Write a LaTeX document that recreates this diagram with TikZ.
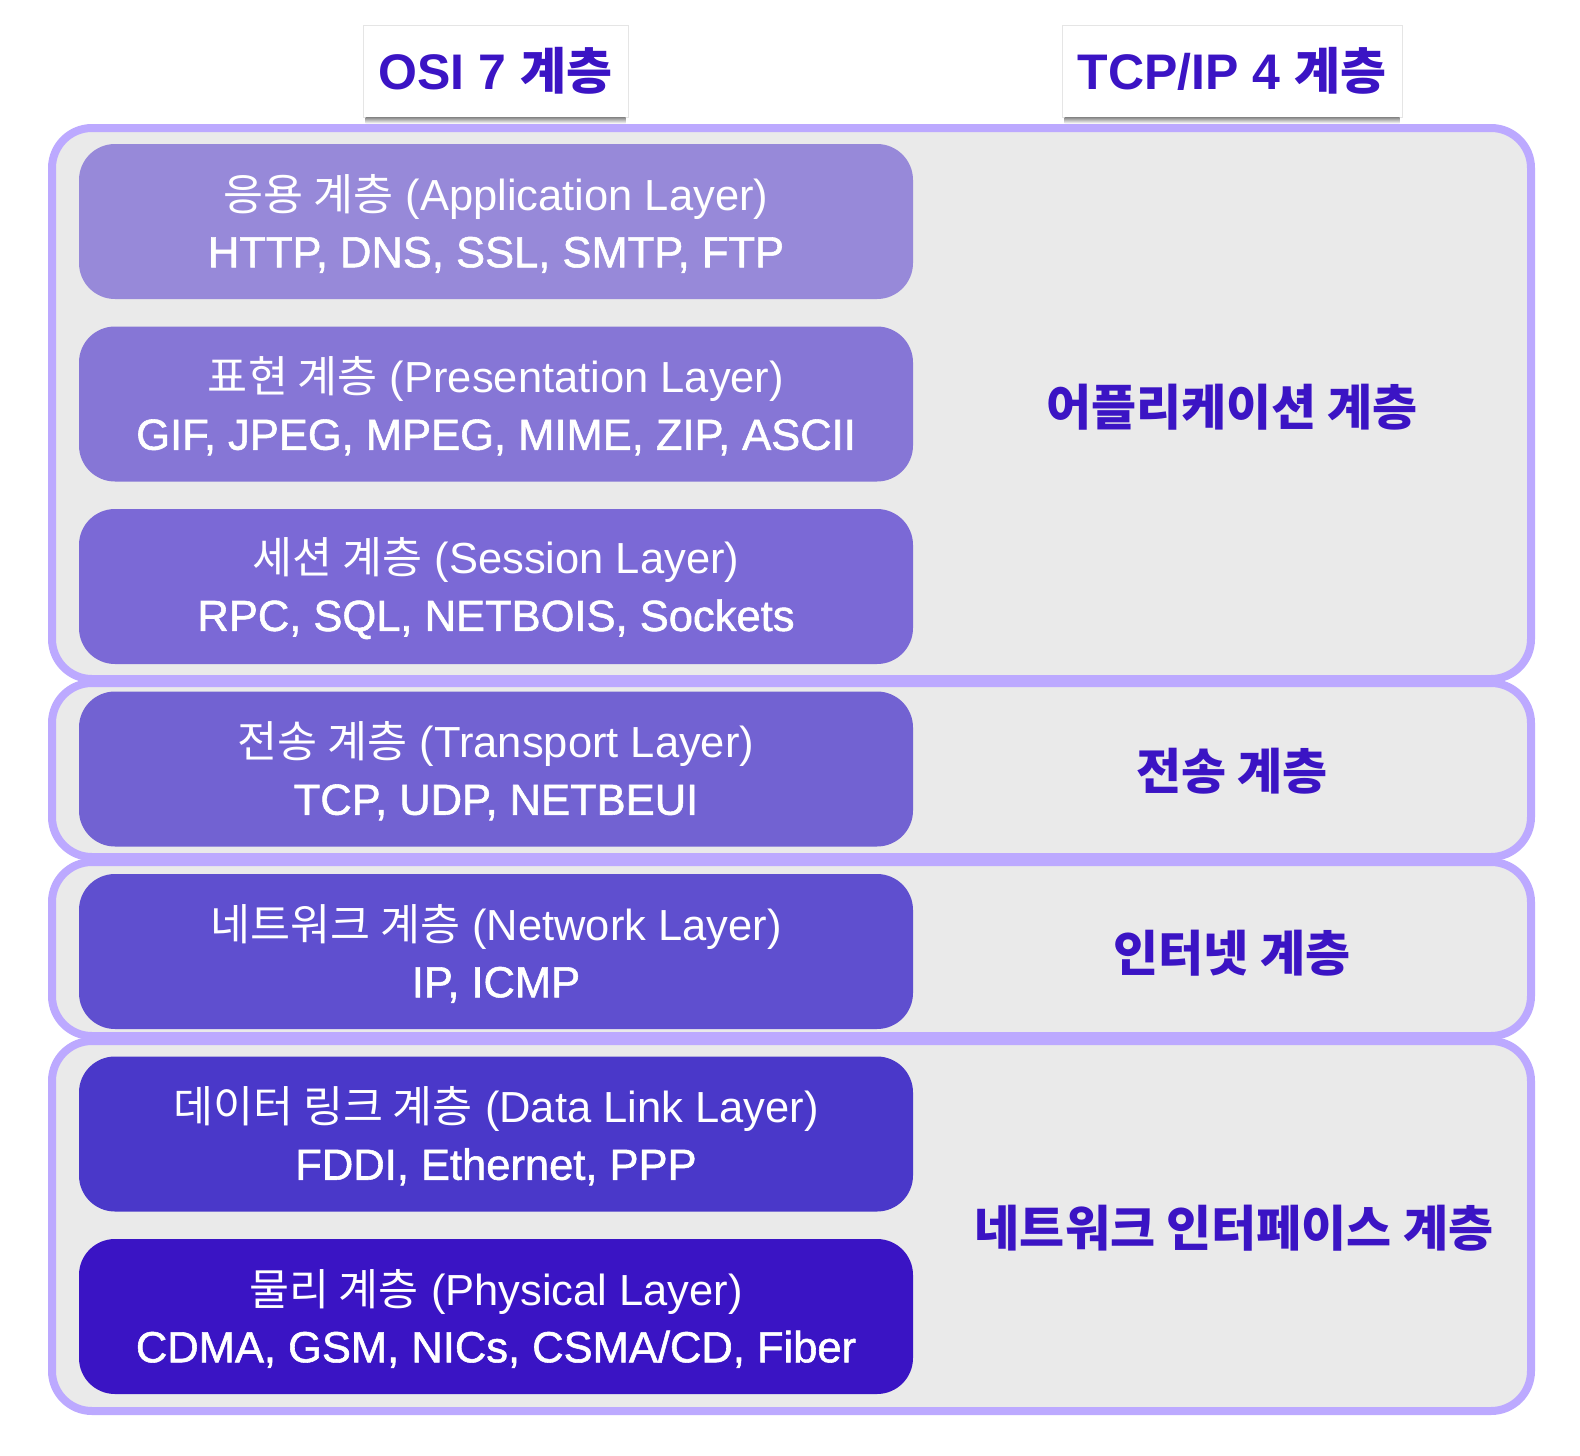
\documentclass[tikz,border=0pt]{standalone}
\usepackage{fontspec}
\setmainfont{Liberation Sans}
\newfontfamily\kr{Noto Sans CJK KR}
\newfontfamily\medfont[FakeBold=1.3]{Liberation Sans}
\usetikzlibrary{shadows}
\definecolor{grpline}{HTML}{BCA9FF}
\definecolor{grpfill}{HTML}{EAEAEA}
\definecolor{ink}{HTML}{3B14C4}
\definecolor{cA}{HTML}{9789D9}
\definecolor{cB}{HTML}{8676D6}
\definecolor{cC}{HTML}{7B69D6}
\definecolor{cD}{HTML}{7262D2}
\definecolor{cE}{HTML}{5F4FCF}
\definecolor{cF}{HTML}{4A38C9}
\definecolor{cG}{HTML}{3A14C4}
\newcommand{\ltwo}[1]{{\medfont #1}}
\tikzset{
  group/.style={draw=grpline, line width=8pt, fill=grpfill, rounded corners=40pt,
    minimum width=1479pt, inner sep=0pt},
  layerbox/.style={fill=#1, rounded corners=36pt, minimum width=834pt,
    minimum height=155pt, inner sep=0pt},
  layertext/.style={text=white, align=center, font=\fontsize{43.5}{57}\selectfont, yshift=-2pt},
  header/.style={draw=black!10, line width=1pt, fill=white, inner sep=0pt,
    minimum height=92pt, text=ink, font=\fontsize{50}{56}\selectfont\bfseries},
  hshadow/.style={top color=black!45, bottom color=white, draw=none},
  tcplabel/.style={text=ink, font=\fontsize{49}{56}\selectfont\bfseries}
}
\begin{document}
\begin{tikzpicture}[x=1pt,y=-1pt]
\useasboundingbox[fill=white] (0,0) rectangle (1580,1456);

% TCP/IP groups
\node[group, minimum height=551pt] (g1) at (791.5,403.5) {};
\node[group, minimum height=174pt] (g2) at (791.5,770) {};
\node[group, minimum height=174pt] (g3) at (791.5,949) {};
\node[group, minimum height=370pt] (g4) at (791.5,1226) {};

% headers
\node[header, minimum width=265pt] (h1) at (495.5,71) {OSI 7 {\kr 계층}};
\node[header, minimum width=340pt] (h2) at (1232,71) {TCP/IP 4 {\kr 계층}};
\shade[hshadow] ([xshift=3pt]h1.south west) rectangle ([xshift=-3pt,yshift=-6pt]h1.south east);
\shade[hshadow] ([xshift=3pt]h2.south west) rectangle ([xshift=-3pt,yshift=-6pt]h2.south east);

% OSI layers
\node[layerbox=cA] (l7) at (496,221.5) {};
\node[layerbox=cB] (l6) at (496,404) {};
\node[layerbox=cC] (l5) at (496,586.5) {};
\node[layerbox=cD] (l4) at (496,769) {};
\node[layerbox=cE] (l3) at (496,951.5) {};
\node[layerbox=cF] (l2) at (496,1134) {};
\node[layerbox=cG] (l1) at (496,1316.5) {};

\node[layertext] (t7) at (l7) {{\kr 응용 계층} (Application Layer)\\\ltwo{HTTP, DNS, SSL, SMTP, FTP}};
\node[layertext] (t6) at (l6) {{\kr 표현 계층} (Presentation Layer)\\\ltwo{GIF, JPEG, MPEG, MIME, ZIP, ASCII}};
\node[layertext] (t5) at (l5) {{\kr 세션 계층} (Session Layer)\\\ltwo{RPC, SQL, NETBOIS, Sockets}};
\node[layertext] (t4) at (l4) {{\kr 전송 계층} (Transport Layer)\\\ltwo{TCP, UDP, NETBEUI}};
\node[layertext] (t3) at (l3) {{\kr 네트워크 계층} (Network Layer)\\\ltwo{IP, ICMP}};
\node[layertext] (t2) at (l2) {{\kr 데이터 링크 계층} (Data Link Layer)\\\ltwo{FDDI, Ethernet, PPP}};
\node[layertext] (t1) at (l1) {{\kr 물리 계층} (Physical Layer)\\\ltwo{CDMA, GSM, NICs, CSMA/CD, Fiber}};

% TCP/IP labels
\node[tcplabel] (a4) at (1232,407) {\kr 어플리케이션 계층};
\node[tcplabel] (a3) at (1232,771) {\kr 전송 계층};
\node[tcplabel] (a2) at (1232,953) {\kr 인터넷 계층};
\node[tcplabel] (a1) at (1234,1228) {\kr 네트워크 인터페이스 계층};
\end{tikzpicture}
\end{document}
